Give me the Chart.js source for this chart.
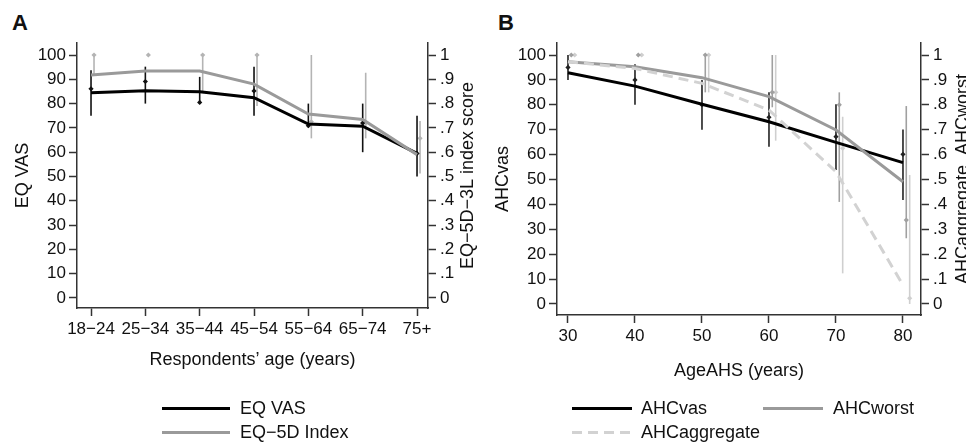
<!DOCTYPE html>
<html>
<head>
<meta charset="utf-8">
<script src="https://cdn.jsdelivr.net/npm/chart.js@4.4.0/dist/chart.umd.min.js"></script>
<style>
  body { margin: 0; background: #fff; width: 966px; height: 444px; overflow: hidden; position: relative;
         font-family: "Liberation Sans", Arial, Helvetica, sans-serif; color: #111; }
  .wrap { position: absolute; top: 0; }
  #wrapA { left: 0; width: 483px; height: 380px; }
  #wrapB { left: 480px; width: 486px; height: 390px; }
  .tag { position: absolute; font-weight: bold; font-size: 22px; line-height: 22px; }
  .leg { position: absolute; font-size: 18px; line-height: 20px; white-space: nowrap; }
  .sw { position: absolute; }
</style>
</head>
<body>
<div class="tag" style="left:12px;top:12px">A</div>
<div class="tag" style="left:498px;top:12px">B</div>
<div class="wrap" id="wrapA"><canvas id="chartA" width="483" height="380"></canvas></div>
<div class="wrap" id="wrapB"><canvas id="chartB" width="486" height="390"></canvas></div>

<!-- legends -->
<svg class="sw" style="left:0;top:0" width="966" height="444">
  <line x1="162" y1="408.5" x2="230" y2="408.5" stroke="#000" stroke-width="3"/>
  <line x1="162" y1="432.5" x2="230" y2="432.5" stroke="#9a9a9a" stroke-width="3"/>
  <line x1="572" y1="408.5" x2="632" y2="408.5" stroke="#000" stroke-width="3"/>
  <line x1="763" y1="408.5" x2="823" y2="408.5" stroke="#9a9a9a" stroke-width="3"/>
  <line x1="572" y1="432.5" x2="632" y2="432.5" stroke="#d2d2d2" stroke-width="3" stroke-dasharray="10,6"/>
</svg>
<div class="leg" style="left:240px;top:398px">EQ VAS</div>
<div class="leg" style="left:240px;top:422px">EQ−5D Index</div>
<div class="leg" style="left:641px;top:398px">AHCvas</div>
<div class="leg" style="left:833px;top:398px">AHCworst</div>
<div class="leg" style="left:641px;top:422px">AHCaggregate</div>

<script>
// ---- panel A data ----
var ageGroups = ["18\u221224", "25\u221234", "35\u221244", "45\u221254", "55\u221264", "65\u221274", "75+"];
var groupPos = [0, 1, 2, 3, 4, 5, 6];
var vasFitA = [84.5, 85.3, 84.9, 82.4, 71.6, 70.7, 59.5];
var indexFitA = [0.918, 0.934, 0.934, 0.88, 0.757, 0.735, 0.59];
var vasMedA = [86.1, 89.1, 80.5, 85.2, 70.9, 72.0, 59.5];
var vasLoA = [75, 80, 80, 75, 70.2, 60, 50];
var vasHiA = [93.7, 95.2, 91, 95.2, 80, 80, 75];
var indexMedA = [1, 1, 1, 1, 0.725, 0.72, 0.657];
var indexLoA = [0.92, 1, 0.85, 0.79, 0.657, 0.657, 0.512];
var indexHiA = [1, 1, 1, 1, 1, 0.927, 0.728];

// ---- panel B data ----
var agesB = [30, 40, 50, 60, 70, 80];
var vasFitB = [92.9, 87.5, 80.2, 73.2, 64.9, 56.8];
var worstFitB = [0.973, 0.953, 0.909, 0.833, 0.699, 0.491];
var aggFitB = [0.973, 0.946, 0.886, 0.779, 0.531, 0.076];
var vasMedB = [95, 90, 80, 75, 67.2, 60.1];
var vasLoB = [90, 80, 70, 63.2, 53.8, 41.8];
var vasHiB = [100, 96.3, 90, 85, 80.2, 70.1];
var worstMedB = [1, 1, 1, 0.85, 0.8, 0.337];
var worstLoB = [1, 1, 0.85, 0.79, 0.41, 0.264];
var worstHiB = [1, 1, 1, 1, 0.85, 0.795];
var aggMedB = [1, 1, 1, 0.85, 0.625, 0.023];
var aggLoB = [1, 1, 0.85, 0.656, 0.123, 0];
var aggHiB = [1, 1, 1, 1, 0.752, 0.518];

// ---- tick labels ----
var leftTicks = [0, 10, 20, 30, 40, 50, 60, 70, 80, 90, 100];
var rightTicks = [0, 0.1, 0.2, 0.3, 0.4, 0.5, 0.6, 0.7, 0.8, 0.9, 1];
var rightLabels = ["0", ".1", ".2", ".3", ".4", ".5", ".6", ".7", ".8", ".9", "1"];

var FONT = "'Liberation Sans', Arial, Helvetica, sans-serif";
var axisColor = "#333";

function pts(xs, ys) {
  return xs.map(function(x, i) { return { x: x, y: ys[i] }; });
}

// whiskers + median markers, drawn under the lines
function errorBars(bars) {
  return {
    id: "errorBars",
    beforeDatasetsDraw: function(chart) {
      var ctx = chart.ctx;
      var xs = chart.scales.x;
      bars.forEach(function(b) {
        var ys = chart.scales[b.axis];
        ctx.save();
        ctx.strokeStyle = b.color;
        ctx.fillStyle = b.color;
        ctx.lineWidth = 1.6;
        b.x.forEach(function(xv, i) {
          var px = xs.getPixelForValue(xv) + b.dx;
          var lo = ys.getPixelForValue(b.lo[i]);
          var hi = ys.getPixelForValue(b.hi[i]);
          if (Math.abs(lo - hi) > 0.5) {
            ctx.beginPath();
            ctx.moveTo(px, lo);
            ctx.lineTo(px, hi);
            ctx.stroke();
          }
          var pm = ys.getPixelForValue(b.mid[i]);
          ctx.beginPath();
          ctx.moveTo(px, pm - 2.6);
          ctx.lineTo(px + 2.6, pm);
          ctx.lineTo(px, pm + 2.6);
          ctx.lineTo(px - 2.6, pm);
          ctx.closePath();
          ctx.fill();
        });
        ctx.restore();
      });
    }
  };
}

// right-hand axis title, reading bottom to top like the left one
function rightTitle(text, cx) {
  return {
    id: "rightTitle",
    afterDraw: function(chart) {
      var ctx = chart.ctx;
      var a = chart.chartArea;
      ctx.save();
      ctx.translate(cx, (a.top + a.bottom) / 2);
      ctx.rotate(-Math.PI / 2);
      ctx.font = "18px " + FONT;
      ctx.fillStyle = "#111";
      ctx.textAlign = "center";
      ctx.textBaseline = "middle";
      ctx.fillText(text, 0, 0);
      ctx.restore();
    }
  };
}

function yAxis(pos, min, max, ticks, labels, width, title, titlePad) {
  return {
    type: "linear",
    position: pos,
    min: min,
    max: max,
    afterBuildTicks: function(s) { s.ticks = ticks.map(function(v) { return { value: v }; }); },
    afterFit: function(s) { s.width = width; },
    ticks: {
      font: { family: FONT, size: 17 },
      color: "#111",
      padding: pos === "left" ? 3 : 4,
      callback: function(v, i) { return labels[i]; }
    },
    grid: { drawOnChartArea: false, tickLength: 8, tickColor: axisColor, tickWidth: 1.5 },
    border: { display: true, color: axisColor, width: 1.5 },
    title: title ? { display: true, text: title, font: { family: FONT, size: 18 }, color: "#111",
                     padding: { top: titlePad, bottom: 0 } } : { display: false }
  };
}

function xAxis(min, max, ticks, labels, height, title, titlePad) {
  return {
    type: "linear",
    min: min,
    max: max,
    afterBuildTicks: function(s) { s.ticks = ticks.map(function(v) { return { value: v }; }); },
    afterFit: function(s) { s.height = height; },
    ticks: {
      font: { family: FONT, size: 17 },
      color: "#111",
      padding: 3,
      autoSkip: false,
      maxRotation: 0,
      callback: function(v, i) { return labels[i]; }
    },
    grid: { drawOnChartArea: false, tickLength: 8, tickColor: axisColor, tickWidth: 1.5 },
    border: { display: true, color: axisColor, width: 1.5 },
    title: { display: true, text: title, font: { family: FONT, size: 18 }, color: "#111",
             padding: { top: 0, bottom: titlePad } }
  };
}

function lineSet(label, data, axis, color, dash) {
  return {
    type: "line",
    label: label,
    data: data,
    yAxisID: axis,
    borderColor: color,
    borderWidth: 3,
    borderDash: dash || [],
    pointRadius: 0,
    tension: 0,
    fill: false
  };
}

var leftLabels = leftTicks.map(String);

window.onload = function() {
  var ctxA = document.getElementById("chartA").getContext("2d");
  window.chartA = new Chart(ctxA, {
    type: "line",
    data: {
      datasets: [
        lineSet("EQ−5D Index", pts(groupPos, indexFitA), "y2", "#9a9a9a"),
        lineSet("EQ VAS", pts(groupPos, vasFitA), "y", "#000")
      ]
    },
    options: {
      responsive: false,
      animation: false,
      layout: { padding: { top: 43, left: 0, right: 0, bottom: 0 } },
      plugins: { legend: { display: false }, tooltip: { enabled: false } },
      scales: {
        x: xAxis(-0.258, 6.202, groupPos, ageGroups, 72, "Respondents\u2019 age (years)", 9),
        y: yAxis("left", -4.12, 104.94, leftTicks, leftLabels, 77, "EQ VAS", 12),
        y2: yAxis("right", -0.0412, 1.0494, rightTicks, rightLabels, 55, null, 0)
      }
    },
    plugins: [
      errorBars([
        { x: groupPos, mid: indexMedA, lo: indexLoA, hi: indexHiA, axis: "y2", color: "#b4b4b4", dx: 3 },
        { x: groupPos, mid: vasMedA, lo: vasLoA, hi: vasHiA, axis: "y", color: "#111", dx: 0 }
      ]),
      rightTitle("EQ\u22125D\u22123L index score", 468)
    ]
  });

  var ctxB = document.getElementById("chartB").getContext("2d");
  window.chartB = new Chart(ctxB, {
    type: "line",
    data: {
      datasets: [
        lineSet("AHCaggregate", pts(agesB, aggFitB), "y2", "#d2d2d2", [10, 6]),
        lineSet("AHCworst", pts(agesB, worstFitB), "y2", "#9a9a9a"),
        lineSet("AHCvas", pts(agesB, vasFitB), "y", "#000")
      ]
    },
    options: {
      responsive: false,
      animation: false,
      layout: { padding: { top: 43, left: 0, right: 0, bottom: 0 } },
      plugins: { legend: { display: false }, tooltip: { enabled: false } },
      scales: {
        x: xAxis(28.36, 82.69, agesB, agesB.map(String), 75, "AgeAHS (years)", 8),
        y: yAxis("left", -4.42, 104.82, leftTicks, leftLabels, 77, "AHCvas", 12),
        y2: yAxis("right", -0.0442, 1.0482, rightTicks, rightLabels, 45, null, 0)
      }
    },
    plugins: [
      errorBars([
        { x: agesB, mid: aggMedB, lo: aggLoB, hi: aggHiB, axis: "y2", color: "#cfcfcf", dx: 6.7 },
        { x: agesB, mid: worstMedB, lo: worstLoB, hi: worstHiB, axis: "y2", color: "#a0a0a0", dx: 3.3 },
        { x: agesB, mid: vasMedB, lo: vasLoB, hi: vasHiB, axis: "y", color: "#222", dx: 0 }
      ]),
      rightTitle("AHCaggregate, AHCworst", 483)
    ]
  });
};
</script>
</body>
</html>
